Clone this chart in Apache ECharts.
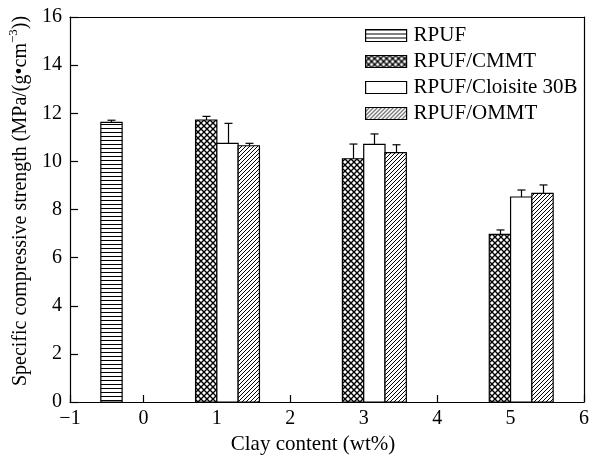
<!DOCTYPE html>
<html>
<head>
<meta charset="utf-8">
<script src="https://cdn.jsdelivr.net/npm/echarts@6/dist/echarts.min.js"></script>
<style>
  html, body { margin: 0; padding: 0; background: #fff; }
  #chart { width: 591px; height: 455px; }
</style>
</head>
<body>
<div id="chart"></div>
<script>
// clay content (wt%) and values
var rpufClay = [0];
var rpuf = [11.62];
var rpufErr = [0.09];

var clay = [1, 3, 5];
var cmmt = [11.72, 10.11, 6.97];
var cmmtErr = [0.15, 0.61, 0.18];
var cloisite = [10.75, 10.71, 8.52];
var cloisiteErr = [0.83, 0.43, 0.29];
var ommt = [10.65, 10.36, 8.67];
var ommtErr = [0.10, 0.33, 0.35];

var seriesNames = ['RPUF', 'RPUF/CMMT', 'RPUF/Cloisite 30B', 'RPUF/OMMT'];
var xTicks = [-1, 0, 1, 2, 3, 4, 5, 6];
var yTicks = [0, 2, 4, 6, 8, 10, 12, 14, 16];

var BAR_W = 0.29; // bar width in axis units (grouped, 4 slots)
var FONT = '"Liberation Serif", "DejaVu Serif", serif';

function makePattern(size, draw) {
    var c = document.createElement('canvas');
    c.width = size;
    c.height = size;
    var ctx = c.getContext('2d');
    ctx.fillStyle = '#fff';
    ctx.fillRect(0, 0, size, size);
    ctx.strokeStyle = '#000';
    ctx.fillStyle = '#000';
    draw(ctx, size);
    return {image: c, repeat: 'repeat'};
}

var patHoriz = makePattern(4, function (ctx, s) {
    ctx.fillRect(0, 0, s, 1);
});
var patCross = makePattern(6, function (ctx, s) {
    ctx.lineWidth = 1.4;
    ctx.beginPath();
    ctx.moveTo(-1, -1); ctx.lineTo(s + 1, s + 1);
    ctx.moveTo(-1, s + 1); ctx.lineTo(s + 1, -1);
    ctx.stroke();
});
var patWhite = '#fff';
var patDiag = makePattern(4, function (ctx, s) {
    ctx.lineWidth = 1;
    ctx.beginPath();
    ctx.moveTo(0, s); ctx.lineTo(s, 0);
    ctx.moveTo(-1, 1); ctx.lineTo(1, -1);
    ctx.moveTo(s - 1, s + 1); ctx.lineTo(s + 1, s - 1);
    ctx.stroke();
});
var fills = [patHoriz, patCross, patWhite, patDiag];

function pairs(xs, vs, es) {
    return xs.map(function (x, i) {
        return [x, vs[i], es[i]];
    });
}

function barRenderer(slot, fill) {
    return function (params, api) {
        var x = api.value(0);
        var v = api.value(1);
        var e = api.value(2);
        var left = x + (slot - 2) * BAR_W;
        var p0 = api.coord([left, v]);
        var p1 = api.coord([left + BAR_W, 0]);
        var pe = api.coord([left + BAR_W / 2, v + e]);
        var cx = Math.round(pe[0]) + 0.5;
        return {
            type: 'group',
            children: [{
                type: 'line',
                shape: {x1: cx, y1: p0[1], x2: cx, y2: pe[1]},
                style: {stroke: '#000', lineWidth: 1.2}
            }, {
                type: 'line',
                shape: {x1: cx - 4, y1: pe[1], x2: cx + 4, y2: pe[1]},
                style: {stroke: '#000', lineWidth: 1.2}
            }, {
                type: 'rect',
                shape: {x: p0[0], y: p0[1], width: p1[0] - p0[0], height: p1[1] - p0[1]},
                style: {fill: fill, stroke: '#000', lineWidth: 1.2}
            }]
        };
    };
}

var seriesData = [
    pairs(rpufClay, rpuf, rpufErr),
    pairs(clay, cmmt, cmmtErr),
    pairs(clay, cloisite, cloisiteErr),
    pairs(clay, ommt, ommtErr)
];

var series = seriesNames.map(function (name, i) {
    return {
        name: name,
        type: 'custom',
        renderItem: barRenderer(i, fills[i]),
        itemStyle: {color: fills[i], borderColor: '#000', borderWidth: 1},
        encode: {x: 0, y: [1, 2]},
        data: seriesData[i]
    };
});

var chart = echarts.init(document.getElementById('chart'));
chart.setOption({
    animation: false,
    backgroundColor: '#fff',
    textStyle: {fontFamily: FONT, color: '#000'},
    grid: {left: 70, right: 7, top: 17, bottom: 53, containLabel: false, outerBoundsMode: 'none'},
    legend: {
        orient: 'vertical',
        left: 365,
        top: 25,
        padding: 0,
        itemWidth: 41,
        itemHeight: 12,
        itemGap: 5,
        selectedMode: false,
        textStyle: {fontFamily: FONT, fontSize: 21, color: '#000', padding: [0, 0, 0, 2]},
        data: seriesNames.map(function (n, i) {
            return {name: n, icon: 'rect', itemStyle: {color: fills[i], borderColor: '#000', borderWidth: 1.2}};
        })
    },
    xAxis: [{
        type: 'value',
        min: xTicks[0],
        max: xTicks[xTicks.length - 1],
        interval: 1,
        name: 'Clay content (wt%)',
        nameLocation: 'middle',
        nameGap: 27,
        nameTextStyle: {fontFamily: FONT, fontSize: 21, color: '#000', padding: [0, 28, 0, 0]},
        axisLine: {onZero: false, lineStyle: {color: '#000', width: 1.2}},
        axisTick: {inside: true, length: 7, lineStyle: {color: '#000', width: 1.2}},
        axisLabel: {
            fontFamily: FONT, fontSize: 20, color: '#000', margin: 7,
            formatter: function (v) { return String(v).replace('-', '\u2212'); }
        },
        splitLine: {show: false}
    }, {
        type: 'value',
        position: 'top',
        min: xTicks[0],
        max: xTicks[xTicks.length - 1],
        axisLine: {show: true, onZero: false, lineStyle: {color: '#000', width: 1.2}},
        axisTick: {show: false},
        axisLabel: {show: false},
        splitLine: {show: false}
    }],
    yAxis: [{
        type: 'value',
        min: yTicks[0],
        max: yTicks[yTicks.length - 1],
        interval: 2,
        name: '{a|Specific compressive strength (MPa/(g\u2022cm}{b|\u22123}{a|))}',
        nameLocation: 'middle',
        nameGap: 35,
        nameTextStyle: {
            fontFamily: FONT, fontSize: 20, color: '#000', padding: [0, 0, 0, 17],
            rich: {
                a: {fontFamily: FONT, fontSize: 20, color: '#000', lineHeight: 24, verticalAlign: 'bottom'},
                b: {fontFamily: FONT, fontSize: 13, color: '#000', lineHeight: 24, verticalAlign: 'top'}
            }
        },
        axisLine: {show: true, onZero: false, lineStyle: {color: '#000', width: 1.2}},
        axisTick: {inside: true, length: 8, lineStyle: {color: '#000', width: 1.2}},
        axisLabel: {fontFamily: FONT, fontSize: 20, color: '#000', margin: 8},
        splitLine: {show: false}
    }, {
        type: 'value',
        position: 'right',
        min: yTicks[0],
        max: yTicks[yTicks.length - 1],
        interval: 2,
        axisLine: {show: true, onZero: false, lineStyle: {color: '#000', width: 1.2}},
        axisTick: {show: false},
        axisLabel: {show: false},
        splitLine: {show: false}
    }],
    series: series
});
</script>
</body>
</html>
